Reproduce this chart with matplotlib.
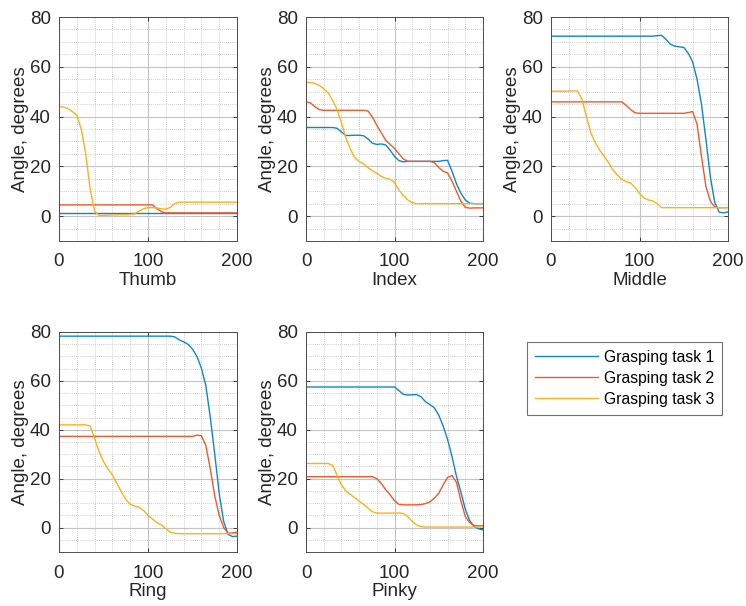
import numpy as np
import matplotlib
matplotlib.use("Agg")
import matplotlib.pyplot as plt
from matplotlib.ticker import MultipleLocator

plt.rcParams['font.family'] = ['Liberation Sans', 'DejaVu Sans']

frames = list(range(0, 201, 5))
fingers = ['Thumb', 'Index', 'Middle', 'Ring', 'Pinky']
task_names = ['Grasping task 1', 'Grasping task 2', 'Grasping task 3']
colors = ['#0E86CF', '#EE5A2B', '#F9B21A']

# angle values every 5 frames
thumb_t1 = [1.3] * 41
thumb_t2 = [4.5] * 22 + [3.0, 1.8] + [1.3] * 17
thumb_t3 = [44, 43.8, 43.2, 42, 40.5, 35, 25, 11, 2, 0.3, 0.3, 0.4, 0.5, 0.5,
            0.6, 0.6, 0.7, 0.9, 2.0, 3.0, 3.4, 3.4, 3.3, 2.9, 2.8, 3.5, 5.0, 5.6] + [5.6] * 13

index_t1 = [35.6] * 7 + [35.3, 33.8, 32.4, 32.4, 32.5, 32.5, 32.3, 31, 29.3, 28.8, 29,
                         28.6, 26.5, 24, 22.3, 21.8, 22] + [22] * 7 + \
           [22.3, 22.4, 18, 13, 9.2, 6.5, 5.2, 5, 5, 5]
index_t2 = [45.9, 45.5, 44, 42.8, 42.5] + [42.5] * 9 + \
           [42.3, 39.8, 36.5, 33.5, 30.5, 28.8, 27.2, 25, 23, 22, 22, 22, 22, 22, 22,
            21.5, 19.5, 18, 17.3, 14, 10, 6, 3.5, 3.2, 3.3, 3.3, 3.3]
index_t3 = [53.7, 53.7, 53.3, 52.5, 51.2, 49.5, 46.5, 43, 37.5, 31.5, 27, 23.5, 22,
            21, 19.5, 18.3, 17.2, 16, 15.2, 14.8, 13.5, 10.5, 8.2, 6.5, 5.4, 5] + [5] * 15

middle_t1 = [72.3] * 24 + [72.5, 72.6, 71, 69, 68.3, 68, 67.8, 65.5, 62, 55, 45, 31,
                           16, 5.5, 1.6, 1.3, 1.7]
middle_t2 = [45.9] * 17 + [44.5, 42.8, 41.5, 41.3] + [41.3] * 10 + \
            [41.6, 42, 37, 24, 12, 6, 3.7, 3.4, 3.4, 3.4]
middle_t3 = [50.2, 50.2, 50.2, 50.2, 50.2, 50.3, 50.3, 47, 40, 33.5, 29.5, 26.5, 24,
             21.5, 18.5, 16.5, 14.8, 13.8, 13.3, 11.5, 9.1, 7.3, 6.5, 6.1, 5, 3.4] + [3.4] * 15

ring_t1 = [78.3] * 26 + [78, 76.8, 76, 75, 73, 70, 65.2, 58, 45, 30, 14, 2.5, -2.8,
                         -3.7, -3.5]
ring_t2 = [37.3] * 31 + [37.8, 37.6, 33.5, 24, 13, 5, 0, -2.3, -2.2, -1.9]
ring_t3 = [42] * 7 + [41.5, 36.5, 31, 27, 24, 21.5, 18, 14.7, 11.5, 9.5, 8.8, 8.3, 7,
                      5, 3.5, 2, 1.1, -0.5, -1.9, -2.4] + [-2.5] * 14

pinky_t1 = [57.5] * 21 + [56, 54.5, 54.2, 54.3, 54.4, 53.5, 51.5, 50.3, 49, 46, 41.5,
                          36, 29, 21, 14.5, 7.5, 2.8, 0.4, -0.5, -1]
pinky_t2 = [20.8] * 16 + [20, 18.1, 15.5, 13.4, 11, 9.5, 9.3, 9.3, 9.3, 9.3, 9.4, 9.8,
                          10.5, 12, 14, 17.5, 20.5, 21.3, 18.5, 11, 4.5, 2.0, 0.8, 0.7, 0.7]
pinky_t3 = [26.2] * 6 + [25.5, 21.5, 17.5, 15, 13.6, 12.2, 10.8, 9.5, 8, 6.5, 5.9] + \
           [5.9] * 5 + [5.8, 4.5, 2.5, 1.1, 0.4, 0.2] + [0.2] * 13

series = [
    [thumb_t1, thumb_t2, thumb_t3],
    [index_t1, index_t2, index_t3],
    [middle_t1, middle_t2, middle_t3],
    [ring_t1, ring_t2, ring_t3],
    [pinky_t1, pinky_t2, pinky_t3],
]

W, H = 746, 606
fig = plt.figure(figsize=(W / 100, H / 100), dpi=100)

# axes boxes in pixels: left, top, right, bottom
boxes = [(59, 17, 237, 241), (306, 17, 483, 241), (551, 17, 728, 241),
         (59, 332, 237, 552), (306, 332, 483, 552)]

txt = '#262626'
lines = []
for name, data, (l, t, r, b) in zip(fingers, series, boxes):
    ax = fig.add_axes([l / W, 1 - b / H, (r - l) / W, (b - t) / H])
    for vals, c in zip(data, colors):
        ln, = ax.plot(frames, vals, color=c, lw=1.0)
        lines.append(ln)
    ax.set_xlim(0, 200)
    ax.set_ylim(-10, 80)
    ax.set_xticks([0, 100, 200])
    ax.set_yticks([0, 20, 40, 60, 80])
    ax.xaxis.set_minor_locator(MultipleLocator(20))
    ax.yaxis.set_minor_locator(MultipleLocator(5))
    ax.grid(True, which='major', color='#c4c4c4', lw=0.8)
    ax.grid(True, which='minor', color='#bdbdbd', lw=0.6, ls=(0, (1, 1.5)))
    ax.set_axisbelow(True)
    ax.tick_params(which='major', direction='in', length=3, width=0.6,
                   top=True, right=True, labelsize=13.5, colors=txt)
    ax.tick_params(axis='x', which='major', pad=9)
    ax.tick_params(axis='y', which='major', pad=6)
    ax.tick_params(which='minor', length=0)
    for s in ax.spines.values():
        s.set_color('#4d4d4d')
        s.set_linewidth(0.7)
    ax.set_xlabel(name, fontsize=13.5, color=txt, labelpad=1)
    ax.set_ylabel('Angle, degrees', fontsize=13.5, color=txt, labelpad=0.5)

leg = fig.legend(lines[:3], task_names, loc='upper left',
                 bbox_to_anchor=(527 / W, 1 - 342 / H), borderaxespad=0,
                 fontsize=11.3, frameon=True, fancybox=False,
                 edgecolor='#4d4d4d', handlelength=4.0, borderpad=0.5,
                 labelspacing=0.38, handletextpad=0.4)
leg.get_frame().set_linewidth(0.8)

fig.savefig('out.png', dpi=100)
